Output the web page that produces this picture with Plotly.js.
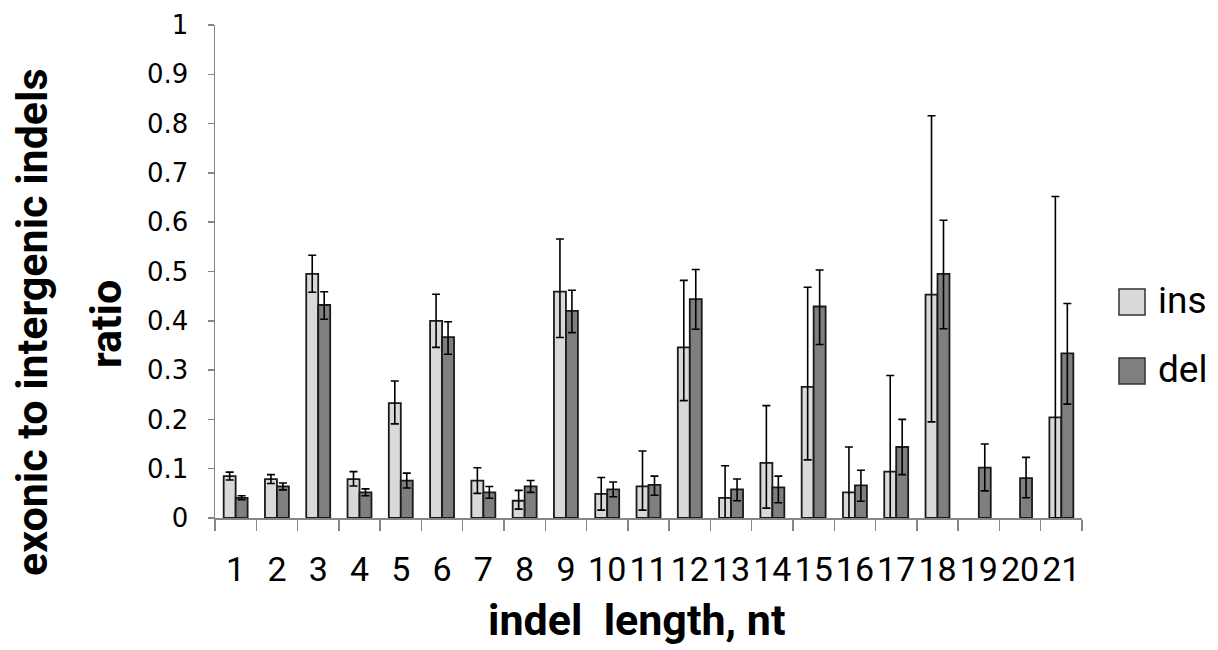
<!DOCTYPE html>
<html>
<head>
<meta charset="utf-8">
<script src="https://cdn.plot.ly/plotly-3.0.1.min.js"></script>
<style>html,body{margin:0;padding:0;background:#fff;}#chart{width:1218px;height:650px;}</style>
</head>
<body>
<div id="chart"></div>
<script>
// indel length categories
const categories = ["1","2","3","4","5","6","7","8","9","10","11","12","13","14","15","16","17","18","19","20","21"];

// insertions: exonic/intergenic ratio and error bars
const insValues    = [0.085,0.079,0.495,0.079,0.233,0.400,0.076,0.035,0.459,0.049,0.064,0.346,0.041,0.112,0.266,0.052,0.094,0.453,null,null,0.204];
const insErrPlus   = [0.008,0.009,0.038,0.015,0.045,0.054,0.026,0.021,0.107,0.033,0.072,0.136,0.065,0.116,0.202,0.092,0.195,0.363,0,0,0.448];
const insErrMinus  = [0.008,0.009,0.037,0.014,0.042,0.054,0.026,0.017,0.093,0.033,0.048,0.108,0.041,0.092,0.148,0.052,0.094,0.258,0,0,0.204];

// deletions: exonic/intergenic ratio and error bars
const delValues    = [0.041,0.064,0.432,0.052,0.076,0.367,0.052,0.064,0.420,0.058,0.067,0.444,0.058,0.062,0.429,0.066,0.144,0.495,0.102,0.081,0.334];
const delErrPlus   = [0.004,0.007,0.027,0.007,0.015,0.031,0.012,0.012,0.042,0.015,0.018,0.060,0.021,0.023,0.074,0.031,0.056,0.109,0.048,0.042,0.101];
const delErrMinus  = [0.004,0.007,0.029,0.007,0.015,0.035,0.012,0.012,0.044,0.015,0.021,0.061,0.023,0.031,0.077,0.032,0.056,0.111,0.047,0.040,0.103];

// y tick labels
const yTickVals = [0,0.1,0.2,0.3,0.4,0.5,0.6,0.7,0.8,0.9,1];
const yTickText = ["0","0.1","0.2","0.3","0.4","0.5","0.6","0.7","0.8","0.9","1"];

const seriesNames = ["ins","del"];
const insColor = "#d9d9d9";
const delColor = "#7f7f7f";
const axisGray = "#868686";

const errStyle = {type:"data", symmetric:false, color:"#000", thickness:1.6, width:4};

const traces = [
  {
    type:"bar", name:seriesNames[0], x:categories, y:insValues,
    marker:{color:insColor, line:{color:"#1a1a1a", width:1.8}},
    error_y:Object.assign({}, errStyle, {array:insErrPlus, arrayminus:insErrMinus}),
    hoverinfo:"x+y"
  },
  {
    type:"bar", name:seriesNames[1], x:categories, y:delValues,
    marker:{color:delColor, line:{color:"#1a1a1a", width:1.8}},
    error_y:Object.assign({}, errStyle, {array:delErrPlus, arrayminus:delErrMinus}),
    hoverinfo:"x+y"
  }
];

// plot area: x 215..1082, y 25..518
const L = 215, R = 1082, T = 25, B = 518;
const px = v => (v - L) / (R - L);
const py = v => (B - v) / (B - T);

const titleFont = {family:"Roboto, 'Open Sans', sans-serif", size:43, color:"#000", weight:"bold"};
const legendFont = {family:"Roboto, 'Open Sans', sans-serif", size:37, color:"#000"};

const layout = {
  width:1218, height:650,
  margin:{l:L, r:1218-R, t:T, b:650-B, pad:0},
  paper_bgcolor:"#fff", plot_bgcolor:"#fff",
  showlegend:false,
  barmode:"group", bargap:0.42, bargroupgap:0,
  xaxis:{
    type:"category", showline:true, linecolor:axisGray, linewidth:1.5,
    ticks:"outside", tickson:"boundaries", ticklen:11, tickcolor:axisGray, tickwidth:1.5,
    tickmode:"array", tickvals:categories, ticktext:categories, tickangle:0,
    showgrid:false, zeroline:false,
    tickfont:{family:"Roboto, 'Open Sans', sans-serif", size:34, color:"#000"},
    ticklabelstandoff:21
  },
  yaxis:{
    range:[0,1], showline:true, linecolor:axisGray, linewidth:1.5,
    ticks:"outside", ticklen:6, tickcolor:axisGray, tickwidth:1.5,
    tickvals:yTickVals, ticktext:yTickText,
    showgrid:false, zeroline:false,
    tickfont:{family:"'DejaVu Sans', Verdana, sans-serif", size:26, color:"#000"},
    ticklabelstandoff:14
  },
  shapes:[
    {type:"rect", xref:"paper", yref:"paper", x0:px(1119), x1:px(1145), y0:py(315), y1:py(289),
     fillcolor:insColor, line:{color:"#333", width:1.5}},
    {type:"rect", xref:"paper", yref:"paper", x0:px(1119), x1:px(1145), y0:py(384), y1:py(358),
     fillcolor:delColor, line:{color:"#333", width:1.5}}
  ],
  annotations:[
    {text:seriesNames[0], xref:"paper", yref:"paper", x:px(1156), y:py(300), xanchor:"left", yanchor:"middle",
     showarrow:false, font:legendFont},
    {text:seriesNames[1], xref:"paper", yref:"paper", x:px(1156), y:py(369), xanchor:"left", yanchor:"middle",
     showarrow:false, font:legendFont},
    {text:"indel\u00a0\u00a0length, nt", xref:"paper", yref:"paper", x:px(637), y:py(620), xanchor:"center", yanchor:"middle",
     showarrow:false, font:titleFont},
    {text:"exonic to intergenic indels", xref:"paper", yref:"paper", x:px(32), y:py(322), xanchor:"center", yanchor:"middle",
     textangle:-90, showarrow:false, font:titleFont},
    {text:"ratio", xref:"paper", yref:"paper", x:px(106), y:py(324), xanchor:"center", yanchor:"middle",
     textangle:-90, showarrow:false, font:titleFont}
  ]
};

Plotly.newPlot("chart", traces, layout, {displayModeBar:false, staticPlot:true});
</script>
</body>
</html>
